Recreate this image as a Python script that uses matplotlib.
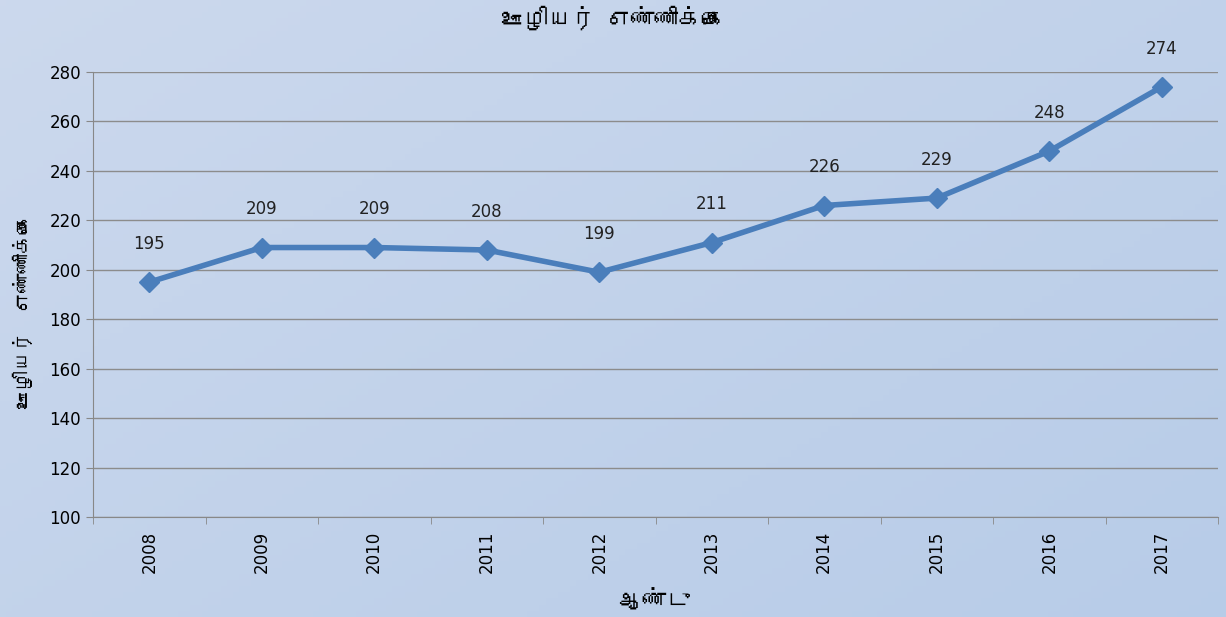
import numpy as np
import matplotlib
matplotlib.use("Agg")
import matplotlib.pyplot as plt
from matplotlib import font_manager
from matplotlib.ft2font import FT2Font

years = ["2008", "2009", "2010", "2011", "2012", "2013", "2014", "2015", "2016", "2017"]
staff = [195, 209, 209, 208, 199, 211, 226, 229, 248, 274]

title_text = "ஊழியர் எண்ணிக்கை"
ylabel_text = "ஊழியர்  எண்ணிக்கை"
xlabel_text = "ஆண்டு"


def tamil_family():
    # look for any installed font that has Tamil glyphs
    for f in font_manager.fontManager.ttflist:
        try:
            cmap = FT2Font(f.fname).get_charmap()
        except Exception:
            continue
        if ord("ஊ") in cmap:
            return f.name
    return None


tf = tamil_family()
tfam = [tf, "DejaVu Sans"] if tf else ["DejaVu Sans"]

fig = plt.figure(figsize=(12.26, 6.17), dpi=100)

# gradient background like the office chart
bg = fig.add_axes([0, 0, 1, 1], zorder=-10)
gx, gy = np.meshgrid(np.linspace(0, 1, 200), np.linspace(0, 1, 100))
grad = 0.55 * gx + 0.45 * gy
c0 = np.array([0.80, 0.85, 0.93])
c1 = np.array([0.72, 0.80, 0.91])
img = c0[None, None, :] * (1 - grad[..., None]) + c1[None, None, :] * grad[..., None]
bg.imshow(img, aspect="auto", extent=[0, 1, 0, 1], origin="upper")
bg.axis("off")

ax = fig.add_axes([93 / 1226, 1 - 517 / 617, (1218 - 93) / 1226, (517 - 72) / 617])
ax.set_facecolor("none")

x = np.arange(len(years)) + 0.5
ax.plot(x, staff, color="#4a7ebb", lw=4, marker="D", ms=10, zorder=3)
for xi, v in zip(x, staff):
    ax.annotate(str(v), (xi, v), xytext=(0, 21), textcoords="offset points",
                ha="center", va="bottom", fontsize=12, color="#222222")

ax.set_xlim(0, len(years))
ax.set_ylim(100, 280)
ax.set_yticks(np.arange(100, 281, 20))
ax.set_xticks(x)
ax.set_xticklabels(years, rotation=90, fontsize=12)
ax.set_xticks(np.arange(0, len(years) + 1), minor=True)
ax.tick_params(axis="x", which="major", length=0, pad=10)
ax.tick_params(axis="x", which="minor", length=5, color="#888888")
ax.tick_params(axis="y", length=5, color="#888888", labelsize=12)
ax.yaxis.grid(True, color="#8c8c8c", lw=1)
ax.set_axisbelow(True)
for s in ["top", "right"]:
    ax.spines[s].set_visible(False)
for s in ["left", "bottom"]:
    ax.spines[s].set_color("#888888")

fig.text(0.5, 1 - 18 / 617, title_text, ha="center", va="center",
         fontsize=17, fontweight="bold", family=tfam)
fig.text(23 / 1226, 1 - 312 / 617, ylabel_text, rotation=90, ha="center", va="center",
         fontsize=14, family=tfam)
fig.text(655 / 1226, 1 - 600 / 617, xlabel_text, ha="center", va="center",
         fontsize=17, fontweight="bold", family=tfam)

fig.savefig("out.png", dpi=100)
